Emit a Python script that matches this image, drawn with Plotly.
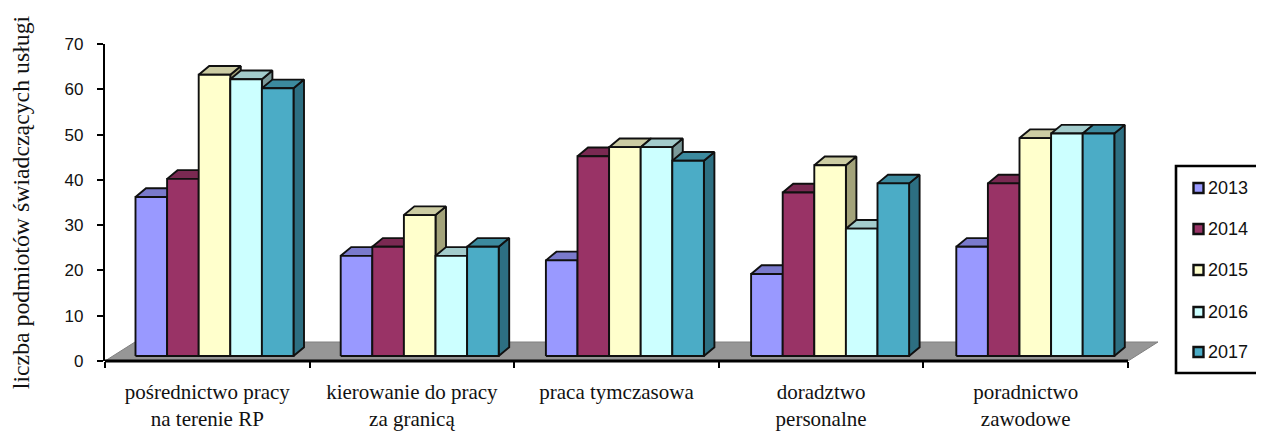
import plotly.graph_objects as go

categories = ["pośrednictwo pracy<br>na terenie RP", "kierowanie do pracy<br>za granicą", "praca tymczasowa<br> ", "doradztwo<br>personalne", "poradnictwo<br>zawodowe"]
years = ["2013", "2014", "2015", "2016", "2017"]
v2013 = [36, 23, 22, 19, 25]
v2014 = [40, 25, 45, 37, 39]
v2015 = [63, 32, 47, 43, 49]
v2016 = [62, 23, 47, 29, 50]
v2017 = [60, 25, 44, 39, 50]
series = [v2013, v2014, v2015, v2016, v2017]
front_colors = ["#9999FF", "#993366", "#FFFFCC", "#CCFFFF", "#4BACC6"]
top_colors = ["#7A7ACC", "#7A2952", "#CCCCA3", "#A3CCCC", "#3C8A9E"]
side_colors = ["#5C5C99", "#5C1F3D", "#A3A37A", "#7A9999", "#2D6F82"]

PX_X = 5 / 1023
PX_Y = 70 / 317
BAR_W = 31.6 * PX_X
GROUP_OFF = 30.5 * PX_X
GROUP_STEP = 205.2 * PX_X
DEPTH_X = 10.5 * PX_X
DEPTH_Y = 8.7 * PX_Y
BASE = 5 * PX_Y
TOP_SHIFT = 1 * PX_Y
EDGE = "#101010"
FLOOR_X, FLOOR_Y = 30 * PX_X, 19 * PX_Y
PLOT_W = 1023 + 30

fig = go.Figure()

def poly(xs, ys, fill, color=EDGE, width=1.9):
    fig.add_trace(go.Scatter(x=xs, y=ys, mode="lines", fill="toself", fillcolor=fill,
                             line=dict(color=color, width=width), hoverinfo="skip",
                             showlegend=False, cliponaxis=False))

# floor
poly([0, FLOOR_X, 5 + FLOOR_X, 5, 0], [0, FLOOR_Y, FLOOR_Y, 0, 0], "#969696", color="#808080", width=1)

# bars, painted left to right
for g in range(len(categories)):
    for s, vals in enumerate(series):
        x0 = g * GROUP_STEP + GROUP_OFF + s * BAR_W
        x1 = x0 + BAR_W
        v = vals[g] + TOP_SHIFT
        poly([x1, x1 + DEPTH_X, x1 + DEPTH_X, x1, x1],
             [BASE, BASE + DEPTH_Y, v + DEPTH_Y, v, BASE], side_colors[s])
        poly([x0, x0 + DEPTH_X, x1 + DEPTH_X, x1, x0],
             [v, v + DEPTH_Y, v + DEPTH_Y, v, v], top_colors[s])
        poly([x0, x1, x1, x0, x0], [BASE, BASE, v, v, BASE], front_colors[s])

def px(p):
    return (p - 105) / PLOT_W

def py(p):
    return (361 - p) / 317

# x axis line (stops at the last category, the floor runs on past it)
shapes = [dict(type="line", xref="x", yref="paper", x0=0, x1=5, y0=0, y1=0, layer="above",
               line=dict(color="#000000", width=2.8))]

# legend
shapes.append(dict(type="rect", xref="paper", yref="paper", x0=px(1176), x1=px(1275), y0=py(373), y1=py(166),
                   line=dict(color="#000000", width=2.6), fillcolor="white"))
annotations = []
legend_centers = [188, 229, 270, 312, 352]
for s, yr in enumerate(years):
    c = legend_centers[s]
    shapes.append(dict(type="rect", xref="paper", yref="paper", x0=px(1193.5), x1=px(1203.5),
                       y0=py(c + 5), y1=py(c - 5), fillcolor=front_colors[s],
                       line=dict(color="#101010", width=2.4)))
    annotations.append(dict(xref="paper", yref="paper", x=px(1207), y=py(c), text=yr, showarrow=False,
                            xanchor="left", yanchor="middle", xshift=-1,
                            font=dict(family="Liberation Sans", size=18, color="#111111")))

fig.update_layout(
    width=1256, height=423,
    margin=dict(l=97, r=1256 - 97 - PLOT_W, t=36, b=70, autoexpand=False),
    paper_bgcolor="white", plot_bgcolor="white", showlegend=False,
    font=dict(family="Liberation Sans", color="#111111", size=17),
    shapes=shapes, annotations=annotations,
    xaxis=dict(range=[0, 5 + FLOOR_X], tickmode="array", tickvals=[0.5, 1.5, 2.5, 3.5, 4.5], ticktext=categories,
               ticks="", showgrid=False, zeroline=False, showline=False,
               tickfont=dict(family="Liberation Serif", size=21), ticklabelstandoff=16,
               minor=dict(tickmode="array", tickvals=[0, 1, 2, 3, 4, 5], ticks="outside", ticklen=6,
                          tickwidth=2, tickcolor="#000000", showgrid=False)),
    yaxis=dict(range=[0, 70], tickmode="array", tickvals=list(range(0, 71, 10)),
               ticks="outside", ticklen=6, tickwidth=2, tickcolor="#000000", ticklabelstandoff=10,
               showgrid=False, zeroline=False, showline=True, linecolor="#000000", linewidth=2.4,
               title=dict(text="liczba podmiotów świadczących usługi", standoff=30,
                          font=dict(family="Liberation Serif", size=23.8))),
)
fig.write_html("out.html")
